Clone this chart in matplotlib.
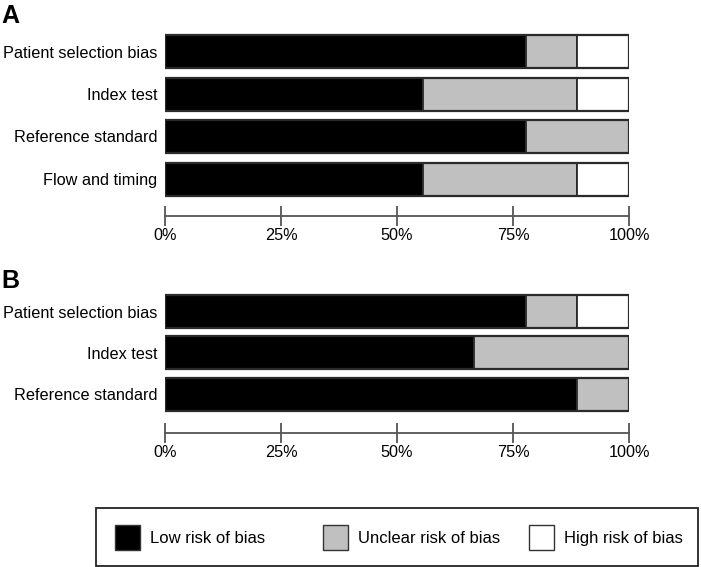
import matplotlib
matplotlib.use("Agg")
import matplotlib.pyplot as plt
from matplotlib.patches import Patch, Rectangle
import numpy as np

plt.rcParams['font.family'] = ['Liberation Sans', 'DejaVu Sans']

# Data (share of studies, %)
cats_a = ["Patient selection bias", "Index test", "Reference standard", "Flow and timing"]
low_a = [77.8, 55.6, 77.8, 55.6]
unclear_a = [11.1, 33.3, 22.2, 33.3]
high_a = [11.1, 11.1, 0.0, 11.1]

cats_b = ["Patient selection bias", "Index test", "Reference standard"]
low_b = [77.8, 66.7, 88.9]
unclear_b = [11.1, 33.3, 11.1]
high_b = [11.1, 0.0, 0.0]

ticks = [0, 25, 50, 75, 100]
tick_labels = ["0%", "25%", "50%", "75%", "100%"]
legend_labels = ["Low risk of bias", "Unclear risk of bias", "High risk of bias"]

colors = ["#000000", "#c0c0c0", "#ffffff"]
W, H = 701, 567
fig = plt.figure(figsize=(W / 100, H / 100), dpi=100)

def px_axes(left, top, right, bottom):
    return fig.add_axes([left / W, 1 - bottom / H, (right - left) / W, (bottom - top) / H])

def draw_panel(ax, cats, low, unclear, high, first_center, spacing, axis_y):
    n = len(cats)
    y = np.arange(n)
    lo = np.array(low); un = np.array(unclear); hi = np.array(high)
    bh = 33 / spacing
    for vals, left, c in [(lo, 0, colors[0]), (un, lo, colors[1]), (hi, lo + un, colors[2])]:
        ax.barh(y, vals, left=left, height=bh, color=c, edgecolor="#2a2a2a", linewidth=1.3)
    ax.barh(y, lo + un + hi, height=bh, color="none", edgecolor="#2a2a2a", linewidth=1.6)
    bottom_units = (axis_y - first_center) / spacing
    ax.set_ylim(bottom_units, -0.5)
    ax.set_xlim(0, 100)
    ax.set_yticks(y)
    ax.set_yticklabels(cats, fontsize=11.7)
    ax.tick_params(axis='y', length=0, pad=5.5)
    ax.set_xticks(ticks)
    ax.set_xticklabels(tick_labels, fontsize=11.7)
    ax.tick_params(axis='x', direction='inout', length=14, width=1.3, color="#555555", pad=1.5)
    for s in ["top", "right", "left"]:
        ax.spines[s].set_visible(False)
    ax.spines["bottom"].set_color("#555555")
    ax.spines["bottom"].set_linewidth(1.3)
    ax.patch.set_visible(False)

sp_a = 42.5
ax_a = px_axes(165, 51.5 - 0.5 * sp_a, 629, 216)
draw_panel(ax_a, cats_a, low_a, unclear_a, high_a, 51.5, sp_a, 216)

sp_b = 41.3
ax_b = px_axes(165, 311.5 - 0.5 * sp_b, 629, 433)
draw_panel(ax_b, cats_b, low_b, unclear_b, high_b, 311.5, sp_b, 433)

fig.text(1 / W, 1 - 23 / H, "A", fontsize=18, fontweight="bold", ha="left", va="baseline")
fig.text(1 / W, 1 - 288 / H, "B", fontsize=18, fontweight="bold", ha="left", va="baseline")

# legend box
fig.patches.append(Rectangle((96 / W, 1 - 566 / H), 602 / W, 58 / H, transform=fig.transFigure,
                             facecolor="none", edgecolor="#222222", linewidth=1.3))
entry_x = [115, 323, 529]
for lab, c, xp in zip(legend_labels, colors, entry_x):
    h = Patch(facecolor=c, edgecolor="#333333", linewidth=1.0)
    fig.legend([h], [lab], loc="center left", bbox_to_anchor=(xp / W, 1 - 537.5 / H),
               frameon=False, fontsize=12, handlelength=1.5, handleheight=2.0,
               handletextpad=0.6, borderaxespad=0, borderpad=0)

fig.savefig("out.png", dpi=100)
